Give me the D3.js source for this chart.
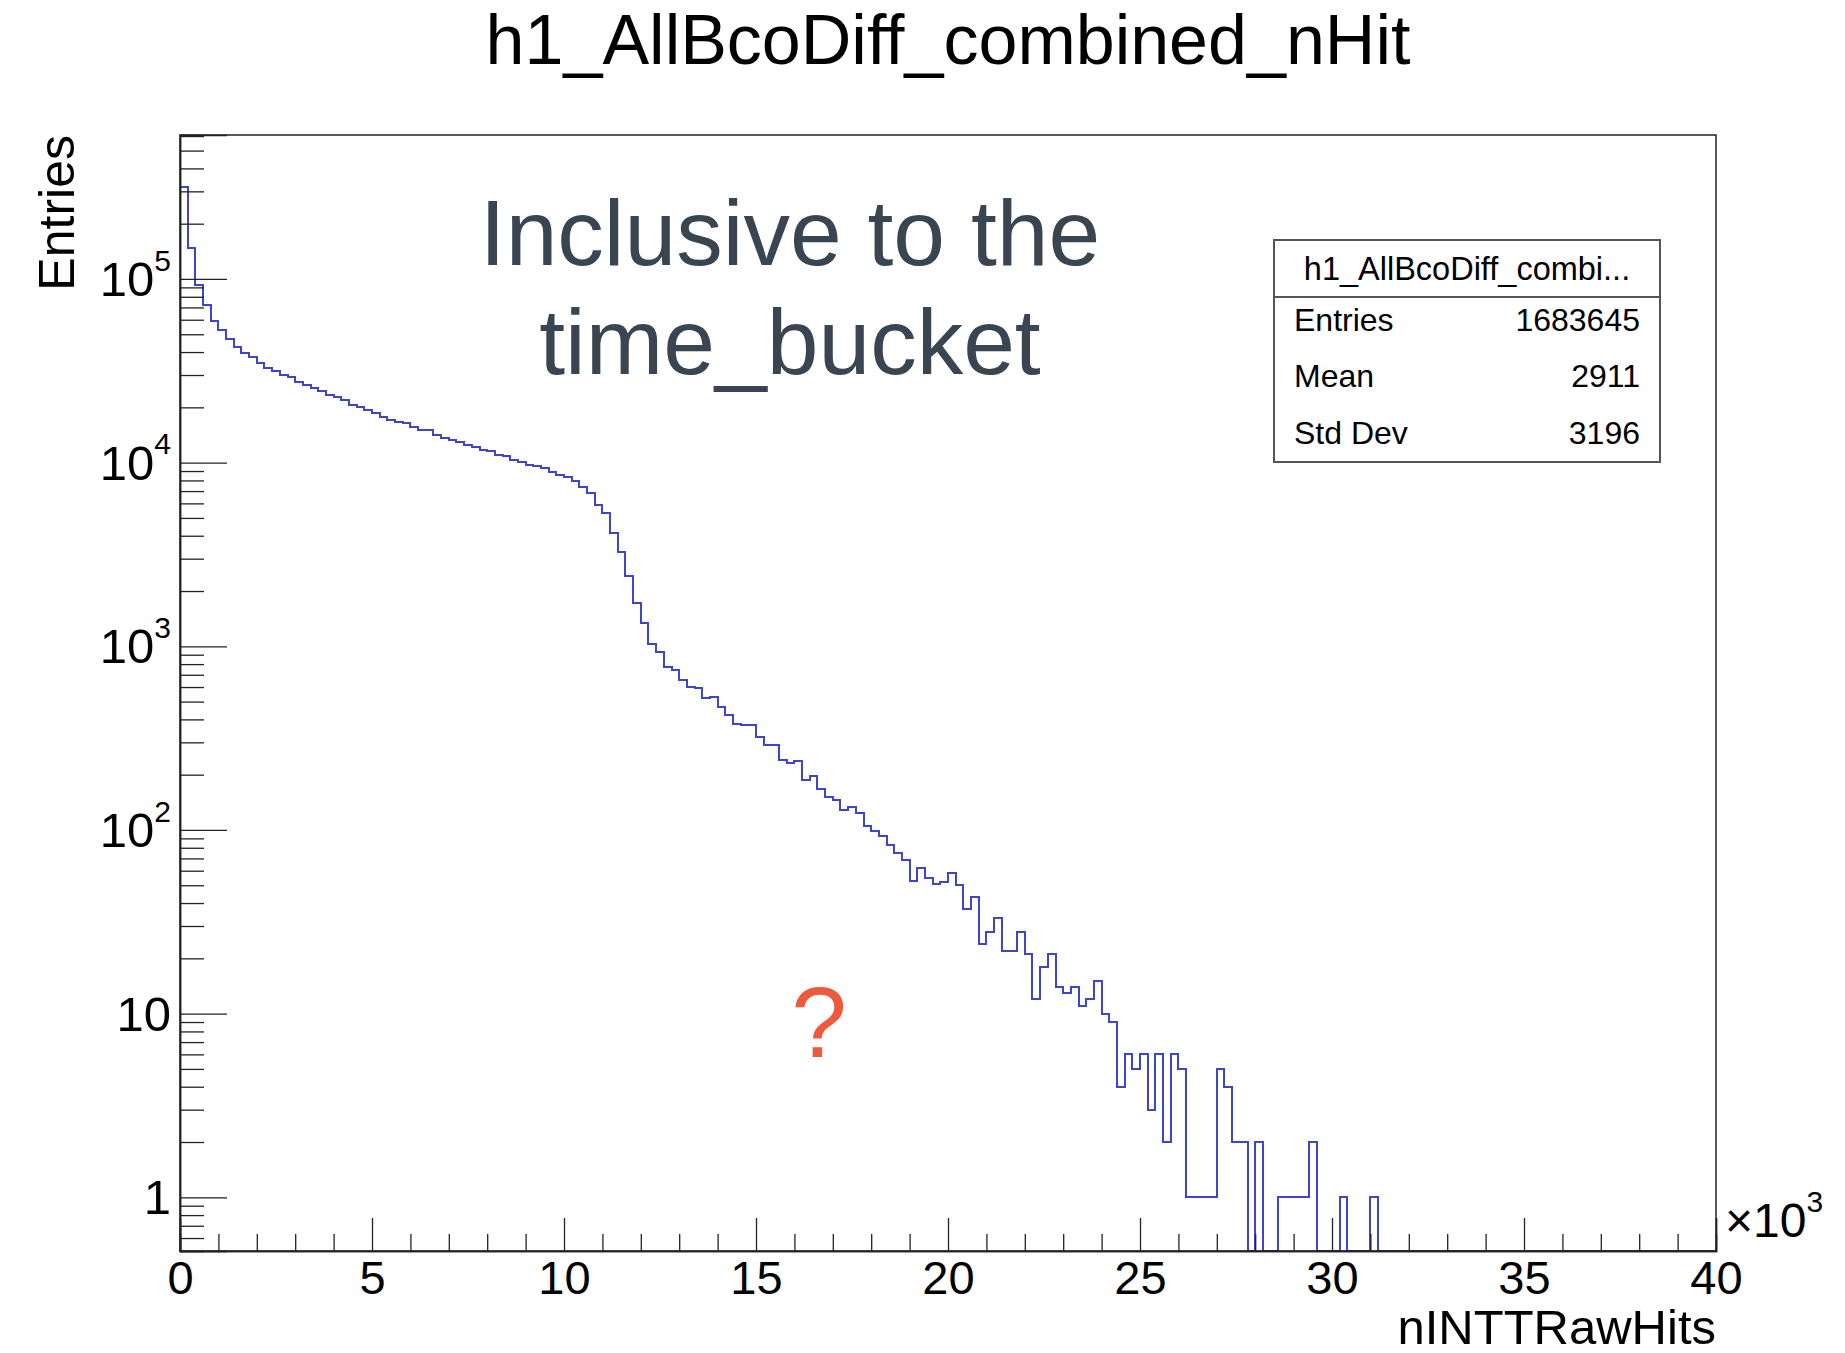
<!DOCTYPE html>
<html>
<head>
<meta charset="utf-8">
<script src="https://cdn.jsdelivr.net/npm/d3@7"></script>
<style>
  html, body { margin: 0; padding: 0; background: #ffffff; }
  svg text { font-family: "Liberation Sans", Arial, Helvetica, sans-serif; }
</style>
</head>
<body>
<svg id="chart" width="1845" height="1353"></svg>
<script>
// ---- histogram content ----
const histTitle = "h1_AllBcoDiff_combined_nHit";
const xTitle = "nINTTRawHits";
const yTitle = "Entries";
const xMin = 0, xMax = 40000;
const binWidth = 200;
// entries per bin of 200 hits, starting at 0 (bins past the list are empty)
const counts = [
  318000, 147000, 92700, 72100, 59300, 52700, 47000, 42500, 39700, 37800,
  34800, 32700, 31700, 30000, 29200, 27600, 26500, 25400, 24400, 23400,
  22700, 21800, 20600, 20000, 19400, 18600, 17700, 17100, 16700, 16400,
  15700, 15100, 15000, 14200, 13700, 13300, 12900, 12500, 12200, 11700,
  11500, 11000, 10900, 10300, 10100, 9700, 9600, 9300, 8930, 8570,
  8320, 7950, 7350, 6810, 5890, 5300, 4160, 3280, 2400, 1720,
  1340, 1030, 929, 770, 745, 657, 599, 592, 522, 532,
  470, 424, 378, 373, 372, 322, 290, 290, 241, 231,
  236, 188, 197, 167, 152, 146, 129, 134, 124, 105,
  99, 93, 83, 75, 69, 53, 62, 55, 51, 52,
  58, 50, 37, 43, 24, 28, 33, 22, 22, 28,
  21, 12, 18, 21, 14, 13, 14, 11, 12, 15,
  10, 9, 4, 6, 5, 6, 3, 6, 2, 6,
  5, 1, 1, 1, 1, 5, 4, 2, 2, 0,
  2, 0, 0, 1, 1, 1, 1, 2, 0, 0,
  0, 1, 0, 0, 0, 1
];
const yRange = [0.51, 6.08e5];
const xMajorTicks = [0, 5000, 10000, 15000, 20000, 25000, 30000, 35000, 40000];
const xMinorStep = 1000;
const yDecades = [1, 10, 100, 1000, 10000, 100000];

const statsTitle = "h1_AllBcoDiff_combi...";
const statsLabels = ["Entries", "Mean", "Std Dev"];
const statsValues = ["1683645", "2911", "3196"];

const noteLines = ["Inclusive to the", "time_bucket"];
const noteMark = "?";

// ---- layout ----
const frame = { left: 180, right: 1716, top: 135, bottom: 1251 };
const lineColor = "#3d47c6";

const svg = d3.select("#chart");
svg.append("rect").attr("width", 1845).attr("height", 1353).attr("fill", "#ffffff");

const x = d3.scaleLinear().domain([xMin, xMax]).range([frame.left, frame.right]);
const y = d3.scaleLog().domain(yRange).range([frame.bottom, frame.top]);

// title
svg.append("text")
  .attr("x", 948).attr("y", 64)
  .attr("text-anchor", "middle")
  .attr("font-size", 70)
  .attr("fill", "#000")
  .text(histTitle);

// clip region for the histogram
svg.append("clipPath").attr("id", "frameClip")
  .append("rect")
  .attr("x", frame.left).attr("y", frame.top)
  .attr("width", frame.right - frame.left)
  .attr("height", frame.bottom - frame.top);

// step outline of the histogram
const nBins = Math.round((xMax - xMin) / binWidth);
const pts = [[xMin, yRange[0]]];
for (let i = 0; i < nBins; i++) {
  const c = i < counts.length ? counts[i] : 0;
  const v = c > 0 ? c : yRange[0];
  pts.push([xMin + i * binWidth, v]);
  pts.push([xMin + (i + 1) * binWidth, v]);
}
pts.push([xMax, yRange[0]]);

const line = d3.line().x(d => x(d[0])).y(d => y(Math.max(d[1], yRange[0])));
svg.append("path")
  .attr("clip-path", "url(#frameClip)")
  .attr("d", line(pts))
  .attr("fill", "none")
  .attr("stroke", lineColor)
  .attr("stroke-width", 2)
  .attr("shape-rendering", "crispEdges");

// frame
svg.append("rect")
  .attr("x", frame.left).attr("y", frame.top)
  .attr("width", frame.right - frame.left)
  .attr("height", frame.bottom - frame.top)
  .attr("fill", "none")
  .attr("stroke", "#222")
  .attr("stroke-width", 1.5);

// x axis: minor ticks every 1000, major every 5000 (ticks drawn inward)
const xMinor = d3.range(xMin, xMax + 1, xMinorStep).filter(v => !xMajorTicks.includes(v));
const xAxisMinor = d3.axisBottom(x).tickValues(xMinor).tickSize(-17).tickFormat("");
const xAxisMajor = d3.axisBottom(x).tickValues(xMajorTicks).tickSize(-33).tickPadding(10)
  .tickFormat(d => d / 1000);
const gxMinor = svg.append("g").attr("transform", `translate(0,${frame.bottom})`).call(xAxisMinor);
const gxMajor = svg.append("g").attr("transform", `translate(0,${frame.bottom})`).call(xAxisMajor);
[gxMinor, gxMajor].forEach(g => {
  g.select(".domain").attr("stroke", "#222").attr("stroke-width", 1.5);
  g.selectAll(".tick line").attr("stroke", "#222").attr("stroke-width", 1.3);
});
gxMajor.selectAll(".tick text")
  .attr("font-size", 47)
  .attr("fill", "#000")
  .attr("font-family", "Liberation Sans, Arial, Helvetica, sans-serif");

// y axis: decades with long ticks, minor ticks at 2..9 of each decade
const yMinor = [];
for (let e = -1; e <= 5; e++) {
  for (let k = 2; k <= 9; k++) {
    const v = k * Math.pow(10, e);
    if (v >= yRange[0] && v <= yRange[1]) yMinor.push(v);
  }
}
const yAxisMinor = d3.axisLeft(y).tickValues(yMinor).tickSize(-24).tickFormat("");
const yAxisMajor = d3.axisLeft(y).tickValues(yDecades).tickSize(-47).tickPadding(9).tickFormat("");
const gyMinor = svg.append("g").attr("transform", `translate(${frame.left},0)`).call(yAxisMinor);
const gyMajor = svg.append("g").attr("transform", `translate(${frame.left},0)`).call(yAxisMajor);
[gyMinor, gyMajor].forEach(g => {
  g.select(".domain").attr("stroke", "#222").attr("stroke-width", 1.5);
  g.selectAll(".tick line").attr("stroke", "#222").attr("stroke-width", 1.3);
});
// decade labels: 1, 10, then 10 with exponent
gyMajor.selectAll(".tick").each(function (d) {
  const exp = Math.round(Math.log10(d));
  const t = d3.select(this).append("text")
    .attr("x", -9).attr("dy", "0.34em")
    .attr("text-anchor", "end")
    .attr("font-size", 49)
    .attr("fill", "#000");
  if (exp < 2) {
    t.text(String(d));
  } else {
    t.append("tspan").text("10");
    t.append("tspan").attr("font-size", 30).attr("dy", "-0.85em").text(String(exp));
  }
});

// axis titles
svg.append("text")
  .attr("x", frame.right).attr("y", 1344)
  .attr("text-anchor", "end")
  .attr("font-size", 49)
  .attr("fill", "#000")
  .text(xTitle);

svg.append("text")
  .attr("transform", `translate(74,${frame.top}) rotate(-90)`)
  .attr("text-anchor", "end")
  .attr("font-size", 50)
  .attr("fill", "#000")
  .text(yTitle);

// x scale multiplier
const mult = svg.append("text")
  .attr("x", 1725).attr("y", 1237)
  .attr("font-size", 48)
  .attr("fill", "#000");
mult.append("tspan").text("\u00d710");
mult.append("tspan").attr("font-size", 30).attr("dy", "-0.85em").text("3");

// statistics box
const sb = { x: 1274, y: 240, w: 386, h: 222, header: 57 };
const gs = svg.append("g");
gs.append("rect")
  .attr("x", sb.x).attr("y", sb.y).attr("width", sb.w).attr("height", sb.h)
  .attr("fill", "#fff").attr("stroke", "#555").attr("stroke-width", 2);
gs.append("line")
  .attr("x1", sb.x).attr("x2", sb.x + sb.w)
  .attr("y1", sb.y + sb.header).attr("y2", sb.y + sb.header)
  .attr("stroke", "#555").attr("stroke-width", 2);
gs.append("text")
  .attr("x", sb.x + sb.w / 2).attr("y", 280)
  .attr("text-anchor", "middle").attr("font-size", 32.5).attr("fill", "#000")
  .text(statsTitle);
const rowY = [331, 387, 444];
statsLabels.forEach((lab, i) => {
  gs.append("text").attr("x", 1294).attr("y", rowY[i])
    .attr("font-size", 32).attr("fill", "#000").text(lab);
  gs.append("text").attr("x", 1640).attr("y", rowY[i])
    .attr("text-anchor", "end").attr("font-size", 32).attr("fill", "#000")
    .text(statsValues[i]);
});

// annotation
const note = svg.append("g");
noteLines.forEach((s, i) => {
  note.append("text")
    .attr("x", 790).attr("y", 265 + i * 109)
    .attr("text-anchor", "middle")
    .attr("font-size", 93)
    .attr("fill", "#3a4552")
    .text(s);
});
svg.append("text")
  .attr("x", 819).attr("y", 1057)
  .attr("text-anchor", "middle")
  .attr("font-size", 100)
  .attr("fill", "#ef5a3d")
  .text(noteMark);
</script>
</body>
</html>
